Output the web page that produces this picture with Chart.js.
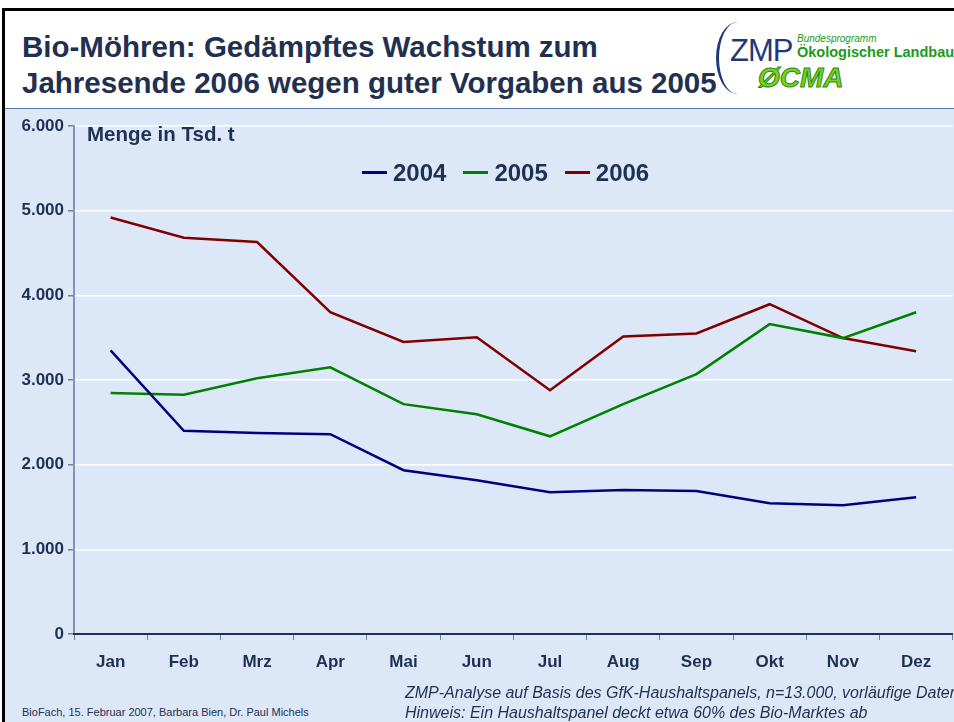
<!DOCTYPE html>
<html>
<head>
<meta charset="utf-8">
<script src="https://cdn.jsdelivr.net/npm/chart.js@4.4.1/dist/chart.umd.min.js"></script>
<style>
  body { margin: 0; width: 954px; height: 722px; overflow: hidden; background: #fff; font-family: "Liberation Sans", Arial, sans-serif; position: relative; }
  #frameTop { position: absolute; left: 2px; top: 8px; width: 960px; height: 3px; background: #000; }
  #frameLeft { position: absolute; left: 2px; top: 8px; width: 3px; height: 720px; background: #000; }
  #panel { position: absolute; left: 5px; top: 108px; width: 960px; height: 620px; background: #dce8f8; border-top: 1px solid #5a78a8; }
  h1 { position: absolute; left: 22px; top: 29px; margin: 0; font-size: 29.5px; line-height: 36px; font-weight: bold; color: #1f3050; white-space: nowrap; }
  #chartBox { position: absolute; left: 5px; top: 110px; width: 949px; height: 580px; }
  .legend { position: absolute; top: 159px; left: 362px; font-weight: bold; font-size: 24px; color: #1f3050; white-space: nowrap; }
  .legend span { display: inline-block; margin-right: 17px; }
  .legend i { display: inline-block; width: 25px; height: 3px; vertical-align: middle; margin-right: 6px; position: relative; top: -2px; }
  #unit { position: absolute; left: 87px; top: 122px; font-weight: bold; font-size: 20.5px; color: #1f3050; }
  #foot1 { position: absolute; left: 22px; top: 706px; font-size: 11px; color: #1f3050; }
  #foot2 { position: absolute; left: 405px; top: 683px; font-size: 16px; font-style: italic; color: #1f3050; line-height: 20px; white-space: nowrap; }
  #logo { position: absolute; left: 716px; top: 18px; width: 240px; height: 80px; }
  #zmp { position: absolute; left: 14px; top: 15px; font-size: 31px; color: #1f3a7a; letter-spacing: -1px; }
  #arc { position: absolute; left: 0px; top: 4px; width: 40px; height: 72px; border-left: 3px solid #1f3a7a; border-radius: 50%; }
  #bp { position: absolute; left: 81px; top: 15px; font-size: 10px; font-style: italic; color: #1a9a1a; }
  #oeko { position: absolute; left: 81px; top: 26px; font-size: 14.5px; font-weight: bold; color: #1a9a1a; white-space: nowrap; }
  #cma { position: absolute; left: 42px; top: 44px; font-size: 28px; font-weight: bold; font-style: italic; color: #7ad21e; -webkit-text-stroke: 1px #2a8a1a; }
</style>
</head>
<body>
<div id="frameTop"></div>
<div id="frameLeft"></div>
<div id="panel"></div>
<h1>Bio-Möhren: Gedämpftes Wachstum zum<br>Jahresende 2006 wegen guter Vorgaben aus 2005</h1>
<div id="logo">
  <div id="arc"></div>
  <div id="zmp">ZMP</div>
  <div id="bp">Bundesprogramm</div>
  <div id="oeko">Ökologischer Landbau</div>
  <div id="cma">ØCMA</div>
</div>
<div id="chartBox"><canvas id="myChart"></canvas></div>
<div id="unit">Menge in Tsd. t</div>
<div class="legend" id="legend"></div>
<div id="foot1">BioFach, 15. Februar 2007, Barbara Bien, Dr. Paul Michels</div>
<div id="foot2">ZMP-Analyse auf Basis des GfK-Haushaltspanels, n=13.000, vorläufige Daten<br>Hinweis: Ein Haushaltspanel deckt etwa 60% des Bio-Marktes ab</div>
<script>
// Data
const months = ['Jan', 'Feb', 'Mrz', 'Apr', 'Mai', 'Jun', 'Jul', 'Aug', 'Sep', 'Okt', 'Nov', 'Dez'];
const seriesNames = ['2004', '2005', '2006'];
const values2004 = [3350, 2400, 2375, 2360, 1935, 1815, 1675, 1700, 1690, 1545, 1520, 1615];
const values2005 = [2845, 2825, 3020, 3150, 2715, 2595, 2335, 2715, 3070, 3660, 3495, 3800];
const values2006 = [4920, 4680, 4630, 3800, 3450, 3505, 2880, 3515, 3550, 3895, 3495, 3340];
const yTickLabels = ['0', '1.000', '2.000', '3.000', '4.000', '5.000', '6.000'];

const colors = ['#000080', '#008000', '#800000'];
const allValues = [values2004, values2005, values2006];

// legend
const legend = document.getElementById('legend');
seriesNames.forEach((n, i) => {
  const s = document.createElement('span');
  s.innerHTML = '<i style="background:' + colors[i] + '"></i>' + n;
  legend.appendChild(s);
});

const textColor = '#1f3050';
const ctx = document.getElementById('myChart').getContext('2d');
const chart = new Chart(ctx, {
  type: 'line',
  data: {
    labels: months,
    datasets: seriesNames.map((n, i) => ({
      label: n,
      data: allValues[i],
      borderColor: colors[i],
      borderWidth: 2.5,
      pointRadius: 0,
      fill: false,
      tension: 0
    }))
  },
  options: {
    responsive: false,
    maintainAspectRatio: false,
    animation: false,
    layout: { padding: { top: 16, right: 0, left: 0, bottom: 0 } },
    scales: {
      y: {
        min: 0,
        max: 6000,
        afterFit: s => { s.width = 69; },
        ticks: {
          stepSize: 1000,
          color: textColor,
          padding: 4,
          font: { family: 'Liberation Sans', size: 17, weight: 'bold' },
          callback: (v, i) => yTickLabels[i]
        },
        grid: { color: '#ffffff', lineWidth: 1.5, tickColor: '#6f80a0', tickLength: 6 },
        border: { color: '#8494b4', width: 2 }
      },
      x: {
        offset: true,
        afterFit: s => { s.height = 56; },
        ticks: {
          color: textColor,
          padding: 12,
          font: { family: 'Liberation Sans', size: 17, weight: 'bold' }
        },
        grid: { drawOnChartArea: false, tickColor: '#6f80a0', tickLength: 6, offset: true },
        border: { color: '#1f2f5f', width: 2 }
      }
    },
    plugins: {
      legend: { display: false },
      tooltip: { enabled: false }
    }
  }
});
chart.canvas.style.width = '949px';
chart.resize(949, 580);
</script>
</body>
</html>
